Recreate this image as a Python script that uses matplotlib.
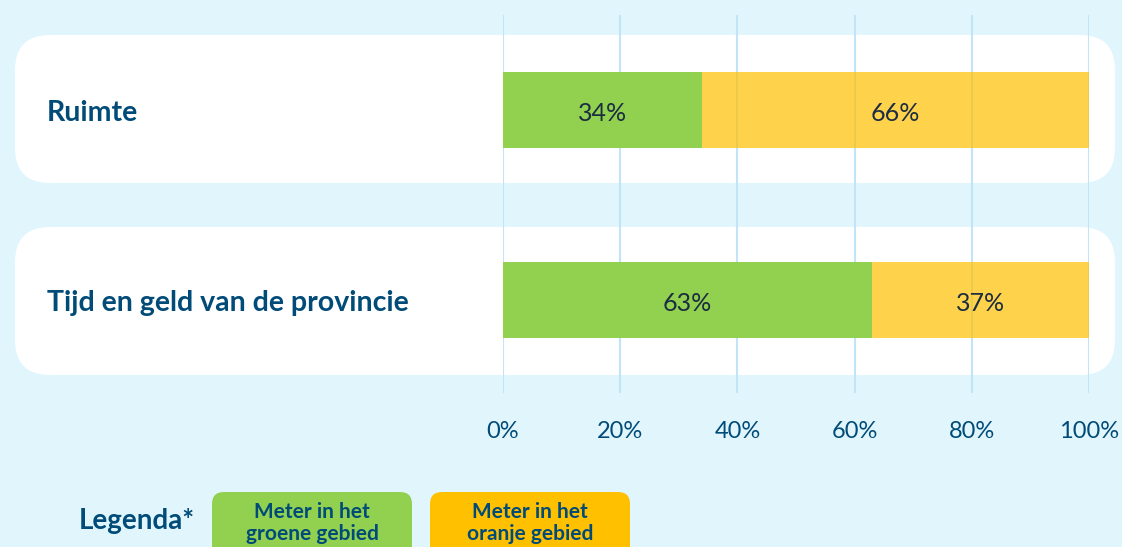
import matplotlib.pyplot as plt
from matplotlib.patches import FancyBboxPatch
from matplotlib.transforms import IdentityTransform, blended_transform_factory

# data
categories = ["Ruimte", "Tijd en geld van de provincie"]
groen = [34, 63]
oranje = [66, 37]
ticks = [0, 20, 40, 60, 80, 100]
legend_labels = ["Meter in het\ngroene gebied", "Meter in het\noranje gebied"]

BG = "#E0F6FC"
NAVY = "#004B78"
GREEN = "#92D050"
ORANGE = "#FFC000"
GRID = "#C2E4F8"

plt.rcParams['font.family'] = ['Lato', 'DejaVu Sans']

fig = plt.figure(figsize=(11.22, 5.47), dpi=100, facecolor=BG)
W, H = 1122, 547

# white rounded panels behind each row (pixel coords, origin bottom-left)
for top, bottom in [(35, 183), (227, 375)]:
    p = FancyBboxPatch((15, H - bottom), 1100, bottom - top,
                       boxstyle="round,pad=0,rounding_size=35",
                       transform=IdentityTransform(), facecolor="white",
                       edgecolor="none", zorder=-5)
    fig.patches.append(p)

ax = fig.add_axes([503 / W, 1 - 393 / H, 586 / W, 378 / H])
ax.patch.set_visible(False)
ax.set_xlim(0, 100)
ax.set_ylim(-0.4895, 1.5)
for s in ax.spines.values():
    s.set_visible(False)

ypos = [1, 0]
ax.barh(ypos, groen, height=0.395, color=GREEN, zorder=2)
ax.barh(ypos, oranje, left=groen, height=0.395, color=ORANGE, alpha=0.7, zorder=2)

dy = 0.018  # small nudge so text sits visually centred
for y, g, o in zip(ypos, groen, oranje):
    ax.text(g / 2, y - dy, f"{g}%", ha='center', va='center', fontsize=18, color="#1B2D40", zorder=3)
    ax.text(g + o / 2, y - dy, f"{o}%", ha='center', va='center', fontsize=18, color="#1B2D40", zorder=3)

trans = blended_transform_factory(fig.transFigure, ax.transData)
for y, c in zip(ypos, categories):
    ax.text(47 / W, y - dy, c, transform=trans, ha='left', va='center',
            fontsize=20.5, fontweight='bold', color=NAVY)

ax.set_xticks(ticks)
ax.set_xticklabels([f"{t}%" for t in ticks], fontsize=17, color=NAVY)
ax.set_yticks([])
ax.tick_params(axis='x', length=0, pad=20)
ax.set_axisbelow(True)
ax.grid(axis='x', color=GRID, linewidth=1.5)

# legend
fig.text(137 / W, 1 - 521 / H, "Legenda*", ha='center', va='center',
         fontsize=20, fontweight='bold', color=NAVY)
for x0, col, lab in zip([212, 430], [GREEN, ORANGE], legend_labels):
    p = FancyBboxPatch((x0, -15), 200, H - 492 + 15,
                       boxstyle="round,pad=0,rounding_size=12",
                       transform=IdentityTransform(), facecolor=col,
                       edgecolor="none", zorder=1)
    fig.patches.append(p)
    fig.text((x0 + 100) / W, 1 - 523 / H, lab, ha='center', va='center',
             fontsize=15, fontweight='bold', color=NAVY, linespacing=1.15, zorder=2)

fig.savefig("out.png", dpi=100, facecolor=BG)
